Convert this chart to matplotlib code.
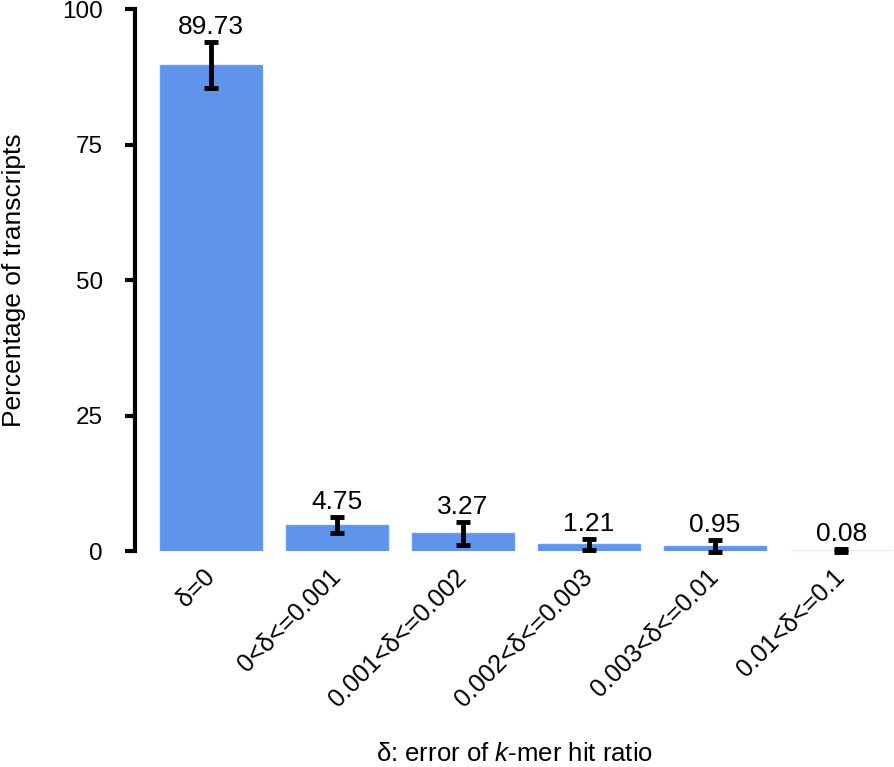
import numpy as np
import matplotlib.pyplot as plt
from matplotlib.transforms import ScaledTranslation

plt.rcParams['font.family'] = ['Liberation Sans', 'DejaVu Sans']
plt.rcParams['mathtext.fontset'] = 'custom'
plt.rcParams['mathtext.rm'] = 'Liberation Sans'
plt.rcParams['mathtext.it'] = 'Liberation Sans:italic'

# datos
categorias = ['δ=0', '0<δ<=0.001', '0.001<δ<=0.002', '0.002<δ<=0.003',
              '0.003<δ<=0.01', '0.01<δ<=0.1']
porcentajes = [89.73, 4.75, 3.27, 1.21, 0.95, 0.08]
errores = [4.25, 1.5, 2.1, 1.0, 1.1, 0.3]

fig = plt.figure(figsize=(8.94, 7.67), dpi=100)
ax = fig.add_axes([0.151, 0.2816, 0.849, 0.7066])

x = np.arange(len(categorias))
ax.bar(x, porcentajes, width=0.81, color='#5f93ec', edgecolor='#6a9cf0',
       linewidth=1, zorder=1)
eb = ax.errorbar(x, porcentajes, yerr=errores, fmt='none', ecolor='black',
                 elinewidth=3.5, capsize=5, capthick=3.5, zorder=2)
for art in eb.lines[1] + eb.lines[2]:
    art.set_clip_on(False)

# etiquetas con los valores
for xi, v, e in zip(x, porcentajes, errores):
    ax.annotate(f'{v:.2f}', (xi, v + e), xytext=(0, 2), textcoords='offset points',
                ha='center', va='bottom', fontsize=19)

ax.set_xlim(-0.603, 5.42)
ax.set_ylim(0, 100)
ax.set_yticks([0, 25, 50, 75, 100])
ax.set_xticks(x)
ax.set_xticklabels(categorias, rotation=45, ha='right', va='center',
                   rotation_mode='anchor', fontsize=18)
desplaz = ScaledTranslation(5 / 72, 0, fig.dpi_scale_trans)
for lbl in ax.get_xticklabels():
    lbl.set_transform(lbl.get_transform() + desplaz)
ax.tick_params(axis='x', length=0, pad=16)
ax.tick_params(axis='y', length=7, width=3, labelsize=17.5, pad=16)

for s in ['top', 'right', 'bottom']:
    ax.spines[s].set_visible(False)
ax.spines['left'].set_linewidth(3)

ax.set_ylabel('Percentage of transcripts', fontsize=19)
ax.yaxis.set_label_coords(-0.143, 0.5)
ax.set_xlabel('δ: error of $\\it{k}$-mer hit ratio', fontsize=18.5, va='baseline')
ax.xaxis.set_label_coords(0.5, -0.388)

fig.savefig('out.png', dpi=100)
